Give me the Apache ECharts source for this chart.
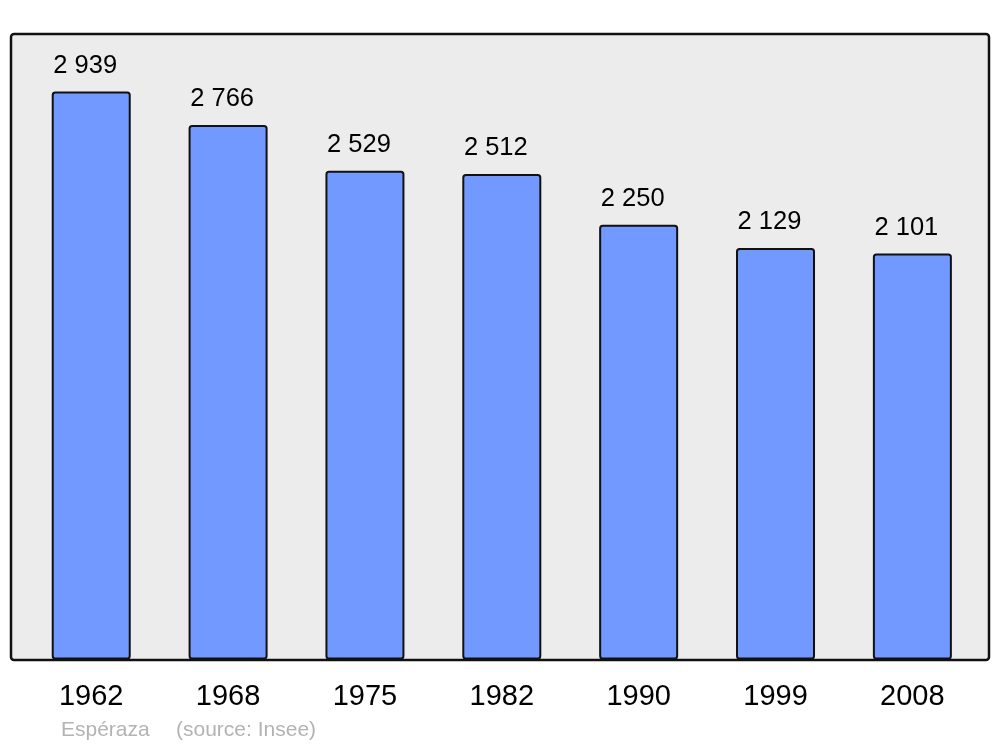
<!DOCTYPE html>
<html>
<head>
<meta charset="utf-8">
<script src="https://cdn.jsdelivr.net/npm/echarts@6/dist/echarts.min.js"></script>
<style>
html,body{margin:0;padding:0;background:#fff;}
#chart{width:1000px;height:747px;}
</style>
</head>
<body>
<div id="chart"></div>
<script>
const years = ['1962', '1968', '1975', '1982', '1990', '1999', '2008'];
const population = [2939, 2766, 2529, 2512, 2250, 2129, 2101];
const captionPlace = 'Espéraza';
const captionSource = '(source: Insee)';

function fmt(v) {
  return String(v).replace(/\B(?=(\d{3})+(?!\d))/g, ' ');
}

const chart = echarts.init(document.getElementById('chart'), null, {renderer: 'canvas'});
chart.setOption({
  animation: false,
  backgroundColor: '#ffffff',
  textStyle: {fontFamily: 'Liberation Sans'},
  graphic: [
    {
      type: 'rect', z: -10, silent: true,
      shape: {x: 11, y: 34, width: 978, height: 626, r: 3},
      style: {fill: '#ececec', stroke: '#111111', lineWidth: 2.5}
    },
    {
      type: 'text', left: 61, top: 720, silent: true,
      style: {text: captionPlace, fill: '#b3b3b3', font: '21px "Liberation Sans"'}
    },
    {
      type: 'text', left: 176, top: 720, silent: true,
      style: {text: captionSource, fill: '#b3b3b3', font: '21px "Liberation Sans"'}
    }
  ],
  grid: {left: 22.8, right: 19.2, top: 34, bottom: 87.5, containLabel: false},
  xAxis: {
    type: 'category',
    data: years,
    axisLine: {show: false},
    axisTick: {show: false},
    axisLabel: {color: '#000', fontSize: 29, margin: 23, fontFamily: 'Liberation Sans'}
  },
  yAxis: {
    type: 'value',
    min: 0, max: 3237,
    show: false,
    splitLine: {show: false}
  },
  series: [{
    type: 'bar',
    data: population,
    barWidth: 79,
    itemStyle: {color: '#7299ff', borderColor: '#111111', borderWidth: 2, borderRadius: 2.5},
    label: {
      show: true, position: 'top', distance: 13, offset: [-6, 0],
      color: '#000', fontSize: 25.5, fontFamily: 'Liberation Sans',
      formatter: p => fmt(p.value)
    }
  }]
});
</script>
</body>
</html>
